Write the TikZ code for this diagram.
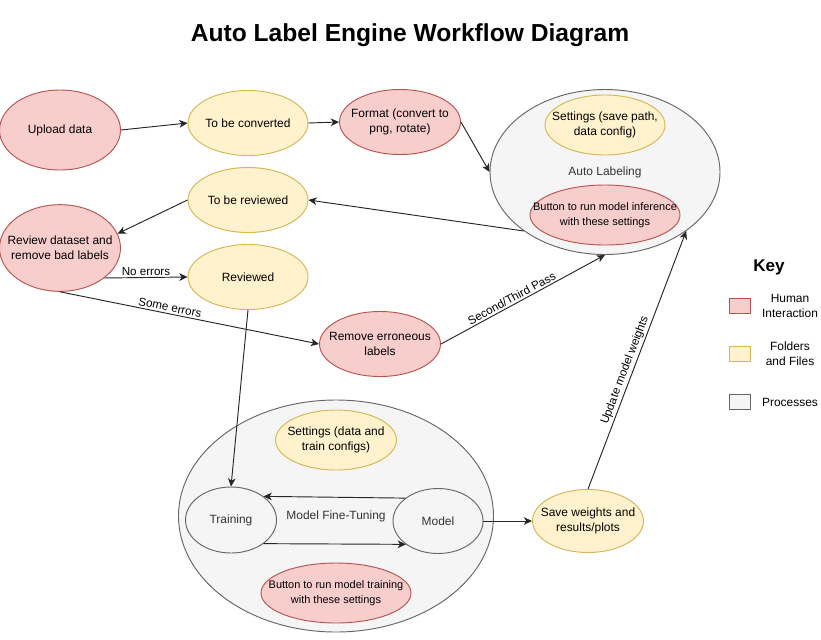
\documentclass[tikz,border=0pt]{standalone}
\usepackage{fontspec}
\setmainfont{Liberation Sans}
\usepackage{tikz}
\usepackage{xcolor}
\definecolor{humanfill}{HTML}{F8CECC}
\definecolor{humanline}{HTML}{B85450}
\definecolor{folderfill}{HTML}{FFF2CC}
\definecolor{folderline}{HTML}{D6B656}
\definecolor{procfill}{HTML}{F5F5F5}
\definecolor{procline}{HTML}{666666}
\definecolor{proctext}{HTML}{333333}
\tikzset{every node/.style={font=\fontsize{10.2}{12.8}\selectfont},
 oval/.style={ellipse,draw,line width=0.8pt,align=center,inner xsep=-8mm,inner ysep=0pt},
 oval size/.style 2 args={minimum width=#1,minimum height=#2},
 human/.style={oval,draw=humanline,fill=humanfill},
 folder/.style={oval,draw=folderline,fill=folderfill},
 process/.style={oval,draw=procline,fill=procfill,text=proctext},
 smalltext/.style={font=\fontsize{9.35}{12.8}\selectfont},
 flow/.style={draw=black!85,line width=0.8pt,-{Stealth[length=7pt,width=6.5pt,inset=2pt]}},
 lbl/.style={font=\fontsize{9.9}{11}\selectfont,inner sep=1.5pt},
 }
\usetikzlibrary{shapes.geometric}
\usetikzlibrary{arrows.meta}

\begin{document}
\begin{tikzpicture}[x=0.03cm, y=-0.03cm]
        \useasboundingbox (0,0) rectangle (821,639);
        \node[font=\bfseries\fontsize{21}{24}\selectfont] (title) at (410,35) {Auto Label Engine Workflow Diagram};

        \node[human, oval size={3.63cm}{2.4cm}] (upload) at (60,130) {Upload data};
        \node[folder, oval size={3.6cm}{1.95cm}] (convert) at (248,123) {To be converted};
        \node[human, oval size={3.63cm}{1.95cm}] (format) at (400,122) {Format (convert to\\png, rotate)};
        \node[process, oval size={6.9cm}{4.95cm}] (autolab) at (605,172) {Auto Labeling};
        \node[folder, oval size={3.6cm}{1.8cm}] (labset) at (605,125) {Settings (save path,\\data config)};
        \node[human, smalltext, oval size={4.5cm}{1.8cm}] (inferbtn) at (605,215) {Button to run model inference\\with these settings};
        \node[folder, oval size={3.6cm}{1.95cm}] (toreview) at (248,200) {To be reviewed};
        \node[human, oval size={3.63cm}{2.6cm}] (review) at (60,248) {Review dataset and\\remove bad labels};
        \node[folder, oval size={3.6cm}{1.95cm}] (reviewed) at (248,277) {Reviewed};
        \node[human, oval size={3.63cm}{1.95cm}] (remove) at (380,344) {Remove erroneous\\labels};

        \node[process, oval size={9.45cm}{6.96cm}] (finetune) at (336,516) {Model Fine-Tuning};
        \node[folder, oval size={3.63cm}{1.8cm}] (trainset) at (336,440) {Settings (data and\\train configs)};
        \node[process, oval size={2.73cm}{1.98cm}] (training) at (231,520) {Training};
        \node[process, oval size={2.7cm}{1.95cm}] (model) at (438,521) {Model};
        \node[human, smalltext, oval size={4.5cm}{1.8cm}] (trainbtn) at (336,593) {Button to run model training\\with these settings};
        \node[folder, oval size={3.33cm}{1.89cm}] (save) at (588,521) {Save weights and\\results/plots};

        \draw[flow] (upload.east) -- (convert.west);
        \draw[flow] (convert.east) -- (format.west);
        \draw[flow] (format.east) -- (autolab.west);
        \draw[flow] (autolab.216) -- (toreview.east);
        \draw[flow] (toreview.west) -- (review.14);
        \draw[flow] (review.-34) -- node[lbl, above] {No errors} (reviewed.west);
        \draw[flow] (review.south) -- node[lbl, above, sloped, pos=0.42] {Some errors} (remove.west);
        \draw[flow] (remove.east) -- node[lbl, above, sloped, pos=0.45] {Second/Third Pass} (autolab.south);
        \draw[flow] (reviewed.south) -- (training.north);
        \draw[flow] (model.145) -- (training.36);
        \draw[flow] (training.-36) -- (model.-144);
        \draw[flow] (model.east) -- (save.west);
        \draw[flow] (save.north) -- node[lbl, above, sloped, pos=0.45] {Update model weights} (autolab.-36);

        \node[font=\bfseries\fontsize{14.5}{17}\selectfont] (key) at (769,267) {Key};
        \foreach \kind/\txt [count=\i] in {human/{Human\\Interaction}, folder/{Folders\\and Files}, process/Processes} {
            \node[\kind, rectangle, minimum width=0.63cm, minimum height=0.45cm] (keybox\i) at (740, 258+\i*48) {};
            \node[align=center] (keytext\i) at (790, 258+\i*48) {\txt};
        }
    \end{tikzpicture}
\end{document}
